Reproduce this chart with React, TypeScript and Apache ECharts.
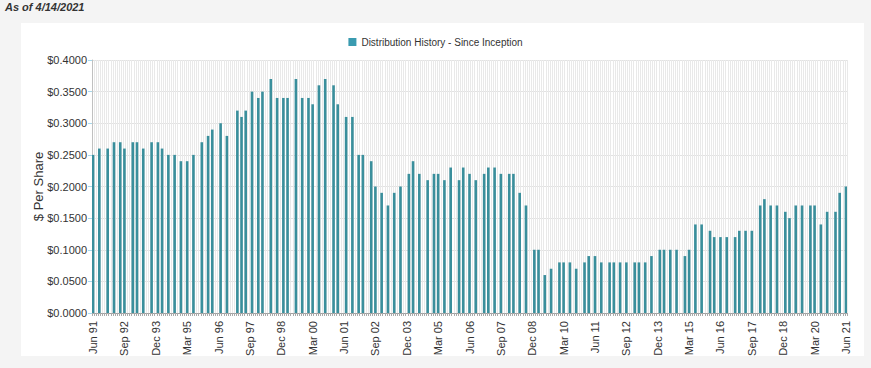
import React, { useEffect, useRef } from "react";
import * as echarts from "echarts";

// Category axis: one entry per month, June 1991 .. June 2021
const START_YEAR = 1991;
const START_MONTH = 5; // June (0-based)
const MONTH_COUNT = 361;
const MONTH_NAMES = ["Jan", "Feb", "Mar", "Apr", "May", "Jun", "Jul", "Aug", "Sep", "Oct", "Nov", "Dec"];

// Distribution months (months since Jun 1991) and amounts ($ per share)
const payMonthIdx = [
  0, 3, 7, 10, 13, 15, 19, 21, 24, 28, 31, 33, 36, 39, 42, 45, 48, 52, 55, 57,
  61, 64, 69, 71, 73, 76, 79, 81, 85, 88, 91, 93, 97, 100, 103, 105, 108, 111, 115, 117,
  121, 124, 127, 129, 133, 135, 138, 141, 144, 147, 151, 153, 156, 160, 163, 165, 168, 171, 175, 177,
  180, 183, 187, 189, 192, 195, 199, 201, 204, 207, 211, 213, 216, 219, 223, 225, 228, 231, 235, 237,
  240, 243, 247, 249, 252, 255, 259, 261, 264, 267, 271, 273, 276, 279, 283, 285, 288, 291, 295, 297,
  300, 303, 307, 309, 312, 315, 319, 321, 324, 327, 331, 333, 336, 339, 343, 345, 348, 351, 355, 357,
  360,
];
const payValues = [
  0.25, 0.26, 0.26, 0.27, 0.27, 0.26, 0.27, 0.27, 0.26, 0.27, 0.27, 0.26, 0.25, 0.25, 0.24, 0.24, 0.25, 0.27, 0.28, 0.29,
  0.30, 0.28, 0.32, 0.31, 0.32, 0.35, 0.34, 0.35, 0.37, 0.34, 0.34, 0.34, 0.37, 0.34, 0.34, 0.33, 0.36, 0.37, 0.36, 0.33,
  0.31, 0.31, 0.25, 0.25, 0.24, 0.20, 0.19, 0.17, 0.19, 0.20, 0.22, 0.24, 0.22, 0.21, 0.22, 0.22, 0.21, 0.23, 0.21, 0.23,
  0.22, 0.21, 0.22, 0.23, 0.23, 0.22, 0.22, 0.22, 0.19, 0.17, 0.10, 0.10, 0.06, 0.07, 0.08, 0.08, 0.08, 0.07, 0.08, 0.09,
  0.09, 0.08, 0.08, 0.08, 0.08, 0.08, 0.08, 0.08, 0.08, 0.09, 0.10, 0.10, 0.10, 0.10, 0.09, 0.10, 0.14, 0.14, 0.13, 0.12,
  0.12, 0.12, 0.12, 0.13, 0.13, 0.13, 0.17, 0.18, 0.17, 0.17, 0.16, 0.15, 0.17, 0.17, 0.17, 0.17, 0.14, 0.16, 0.16, 0.19,
  0.20,
];

const Y_MIN = 0;
const Y_MAX = 0.4;
const Y_STEP = 0.05;
const LABEL_EVERY = 15;

const SERIES_NAME = "Distribution History - Since Inception";
const AS_OF = "As of 4/14/2021";

function buildCategories(): string[] {
  const out: string[] = [];
  for (let i = 0; i < MONTH_COUNT; i++) {
    const m = (START_MONTH + i) % 12;
    const y = START_YEAR + Math.floor((START_MONTH + i) / 12);
    out.push(MONTH_NAMES[m] + " " + String(y % 100).padStart(2, "0"));
  }
  return out;
}

export default function App() {
  const ref = useRef<HTMLDivElement>(null);

  useEffect(() => {
    if (!ref.current) return;
    const chart = echarts.init(ref.current, null, { renderer: "svg" });
    const categories = buildCategories();
    const data: (number | string)[] = categories.map(() => "-");
    payMonthIdx.forEach((idx, k) => {
      data[idx] = payValues[k];
    });
    const font = "Liberation Sans, Arial, sans-serif";

    chart.setOption({
      animation: false,
      backgroundColor: "#f4f4f4",
      textStyle: { fontFamily: font },
      title: {
        text: AS_OF,
        left: 5,
        top: 1,
        padding: 0,
        textStyle: { fontSize: 11, fontStyle: "italic", fontWeight: "bold", color: "#333", fontFamily: font },
      },
      graphic: [
        {
          type: "rect",
          z: -10,
          shape: { x: 21, y: 23, width: 843, height: 333 },
          style: { fill: "#ffffff" },
          silent: true,
        },
      ],
      legend: {
        top: 32,
        left: "center",
        itemWidth: 8,
        itemHeight: 8,
        icon: "rect",
        itemGap: 6,
        textStyle: { fontSize: 10, color: "#333", fontFamily: font },
        data: [{ name: SERIES_NAME, itemStyle: { color: "#3a9bb0" } }],
      },
      grid: { left: 92, right: 24, top: 60, bottom: 55, containLabel: false },
      xAxis: {
        type: "category",
        data: categories,
        boundaryGap: true,
        axisLine: { lineStyle: { color: "#a0a0a0", width: 1 } },
        axisTick: { show: true, interval: 0, length: 3, lineStyle: { color: "#aaaaaa" } },
        splitLine: { show: true, interval: 0, lineStyle: { color: "#e9e9e9", width: 1 } },
        axisLabel: {
          interval: LABEL_EVERY - 1,
          rotate: 90,
          fontSize: 11,
          color: "#333",
          margin: 8,
          fontFamily: font,
        },
      },
      yAxis: {
        type: "value",
        min: Y_MIN,
        max: Y_MAX,
        interval: Y_STEP,
        name: "$ Per Share",
        nameLocation: "middle",
        nameGap: 47,
        nameMoveOverlap: false,
        nameTextStyle: { fontSize: 13, color: "#333", fontFamily: font },
        axisLine: { show: true, lineStyle: { color: "#c0c0c0" } },
        axisTick: { show: true, length: 4, lineStyle: { color: "#a8d8ea" } },
        splitLine: { show: true, lineStyle: { color: "#e2e2e2", width: 1 } },
        axisLabel: {
          fontSize: 11,
          color: "#333",
          margin: 5,
          fontFamily: font,
          formatter: (v: number) => "$" + v.toFixed(4),
        },
      },
      series: [
        {
          name: SERIES_NAME,
          type: "bar",
          data,
          barWidth: 2.6,
          itemStyle: { color: "#3a8f9c" },
        },
      ],
    });
    return () => chart.dispose();
  }, []);

  return (
    <div style={{ position: "absolute", left: 0, top: 0, width: 871, height: 368 }}>
      <div ref={ref} style={{ width: 871, height: 368 }} />
    </div>
  );
}
